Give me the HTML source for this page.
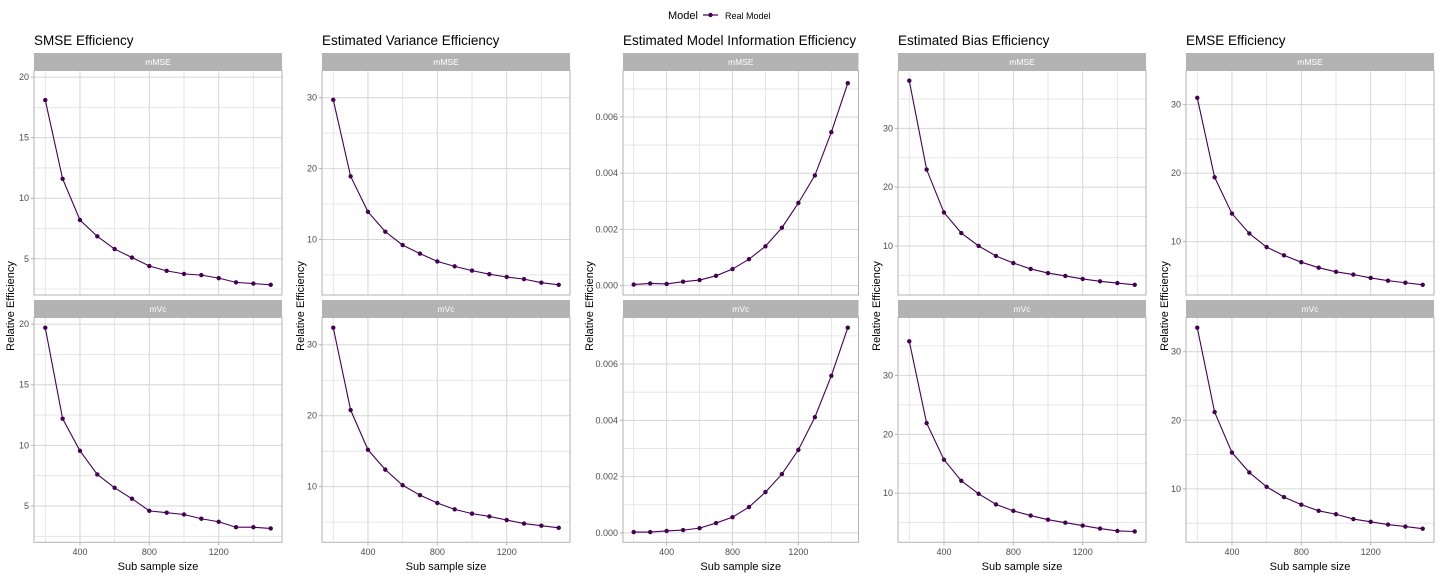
<!DOCTYPE html>
<html><head><meta charset="utf-8"><style>
html,body{margin:0;padding:0;background:#fff;}
svg{display:block;font-family:"Liberation Sans",Arial,sans-serif;}
</style></head><body>
<svg id="chart" width="1440" height="576" viewBox="0 0 1440 576">
  <g>
    <text x="668" y="19" font-size="11" fill="#000">Model</text>
    <line x1="703" y1="15" x2="718" y2="15" stroke="#440154" stroke-width="1.2"/>
    <circle cx="710.5" cy="15" r="2.2" fill="#440154"/>
    <text x="725" y="19" font-size="9" fill="#000">Real Model</text>
  </g>
</svg>
<script>
const xValues = [200,300,400,500,600,700,800,900,1000,1100,1200,1300,1400,1500];
const xTicks = [400,800,1200];
const xMinor = [200,600,1000,1400];
const titles = ["SMSE Efficiency","Estimated Variance Efficiency","Estimated Model Information Efficiency","Estimated Bias Efficiency","EMSE Efficiency"];
const smseMMSE = [18.1,11.6,8.2,6.85,5.8,5.1,4.4,4.0,3.75,3.65,3.4,3.05,2.95,2.85];
const smseMVc = [19.7,12.2,9.55,7.6,6.5,5.6,4.6,4.45,4.3,3.95,3.7,3.25,3.25,3.15];
const varMMSE = [29.7,18.9,13.9,11.1,9.2,8.0,6.9,6.2,5.6,5.1,4.7,4.4,3.9,3.6];
const varMVc = [32.4,20.8,15.2,12.4,10.2,8.8,7.7,6.8,6.2,5.8,5.3,4.8,4.5,4.2];
const infoMMSE = [0.00004,0.00008,0.00006,0.00014,0.0002,0.00035,0.00059,0.00094,0.0014,0.00206,0.00294,0.00392,0.00546,0.0072];
const infoMVc = [0.00003,0.00003,0.00007,0.0001,0.00017,0.00035,0.00056,0.00092,0.00145,0.00209,0.00295,0.00411,0.00558,0.00729];
const biasMMSE = [38.1,23.0,15.7,12.2,10.0,8.3,7.1,6.1,5.4,4.9,4.4,4.0,3.7,3.4];
const biasMVc = [35.8,21.9,15.7,12.1,9.9,8.1,7.0,6.2,5.5,5.0,4.5,4.0,3.6,3.5];
const emseMMSE = [31.0,19.4,14.1,11.2,9.2,8.0,7.0,6.2,5.6,5.2,4.7,4.3,4.0,3.7];
const emseMVc = [33.5,21.2,15.3,12.4,10.3,8.8,7.7,6.8,6.3,5.6,5.2,4.8,4.5,4.2];
const yTicks1 = [5,10,15,20];
const yTicks2 = [10,20,30];
const yTicks3 = [0,0.002,0.004,0.006];
const yTickLabels3 = ["0.000","0.002","0.004","0.006"];
const yTicks4 = [10,20,30];
const yTicks5 = [10,20,30];

const cols = [
  {left:34, right:282, series:[smseMMSE,smseMVc], ticks:yTicks1, labels:yTicks1.map(String), yt:10},
  {left:322, right:570, series:[varMMSE,varMVc], ticks:yTicks2, labels:yTicks2.map(String), yt:300},
  {left:623, right:858.5, series:[infoMMSE,infoMVc], ticks:yTicks3, labels:yTickLabels3, yt:589},
  {left:898, right:1146, series:[biasMMSE,biasMVc], ticks:yTicks4, labels:yTicks4.map(String), yt:876},
  {left:1186, right:1434, series:[emseMMSE,emseMVc], ticks:yTicks5, labels:yTicks5.map(String), yt:1164}
];
const rows = [{strip:53, top:70.5, bottom:295, name:"mMSE"},{strip:300, top:317.5, bottom:542.3, name:"mVc"}];
const svg = document.getElementById('chart');
const NS = "http://www.w3.org/2000/svg";
function mk(tag, attrs, parent){const e=document.createElementNS(NS,tag);for(const k in attrs)e.setAttribute(k,attrs[k]);(parent||svg).appendChild(e);return e;}

const xmin = 200 - 0.05*1300, xmax = 1500 + 0.05*1300;

cols.forEach((c,ci)=>{
  const g = mk('g',{});
  
  
  const t = mk('text',{x:c.left,y:45,'font-size':13.5,fill:'#000'},g);
  t.textContent = titles[ci];
  
  
  const all = c.series[0].concat(c.series[1]);
  const lo = Math.min(...all), hi = Math.max(...all), r = hi-lo;
  const ymin = lo-0.05*r, ymax = hi+0.05*r;
  const sx = v => c.left + (v-xmin)/(xmax-xmin)*(c.right-c.left);
  const step = c.ticks[1]-c.ticks[0];
  const minors = [];
  for(let v=c.ticks[0]-step/2; v<=ymax; v+=step){ if(v>=ymin) minors.push(v); }
  rows.forEach((row,ri)=>{
    const sy = v => row.bottom - (v-ymin)/(ymax-ymin)*(row.bottom-row.top);
    const strip = mk('rect',{x:c.left,y:row.strip,width:c.right-c.left,height:row.top-row.strip,fill:'#b3b3b3'},g);
    
    
    const st = mk('text',{x:(c.left+c.right)/2,y:row.strip+12,'font-size':8.5,fill:'#fff','text-anchor':'middle'},g);
    st.textContent = row.name;
    
    
    minors.forEach(v=>{ const y=sy(v); mk('line',{x1:c.left,x2:c.right,y1:y,y2:y,stroke:'#e0e0e0','stroke-width':0.8},g); });
    xMinor.forEach(v=>{ const x=sx(v); mk('line',{x1:x,x2:x,y1:row.top,y2:row.bottom,stroke:'#e0e0e0','stroke-width':0.8},g); });
    c.ticks.forEach((v,i)=>{ const y=sy(v); if(y<row.top||y>row.bottom) return;
      mk('line',{x1:c.left,x2:c.right,y1:y,y2:y,stroke:'#d6d6d6','stroke-width':1},g);
      mk('line',{x1:c.left-3,x2:c.left,y1:y,y2:y,stroke:'#b3b3b3','stroke-width':1},g);
      const lt = mk('text',{x:c.left-5,y:y+3,'font-size':9,fill:'#4d4d4d','text-anchor':'end'},g);
      lt.textContent = c.labels[i];
      
      
    });
    xTicks.forEach(v=>{ const x=sx(v); mk('line',{x1:x,x2:x,y1:row.top,y2:row.bottom,stroke:'#d6d6d6','stroke-width':1},g); });
    const border = mk('rect',{x:c.left,y:row.top,width:c.right-c.left,height:row.bottom-row.top,fill:'none',stroke:'#b3b3b3','stroke-width':1},g);
    
    
    const data = c.series[ri];
    const pts = data.map((v,i)=>sx(xValues[i]).toFixed(2)+','+sy(v).toFixed(2)).join(' ');
    const line = mk('polyline',{points:pts,fill:'none',stroke:'#440154','stroke-width':1.1},g);
    
    
    data.forEach((v,i)=>{
      const p = mk('circle',{cx:sx(xValues[i]),cy:sy(v),r:2.2,fill:'#440154'},g);
      
      
    });
  });
  xTicks.forEach(v=>{ const x=sx(v);
    mk('line',{x1:x,x2:x,y1:542.3,y2:545.5,stroke:'#b3b3b3','stroke-width':1},g);
    const xt = mk('text',{x:x,y:555,'font-size':9,fill:'#4d4d4d','text-anchor':'middle'},g);
    xt.textContent = v;
    
    
  });
  const xa = mk('text',{x:(c.left+c.right)/2,y:570,'font-size':11,fill:'#000','text-anchor':'middle'},g);
  xa.textContent = 'Sub sample size';
  
  
  const ya = mk('text',{x:0,y:0,'font-size':11,fill:'#000','text-anchor':'middle',transform:'translate('+(c.yt+4)+',306) rotate(-90)'},g);
  ya.textContent = 'Relative Efficiency';
  
  
});
</script>
</body></html>
